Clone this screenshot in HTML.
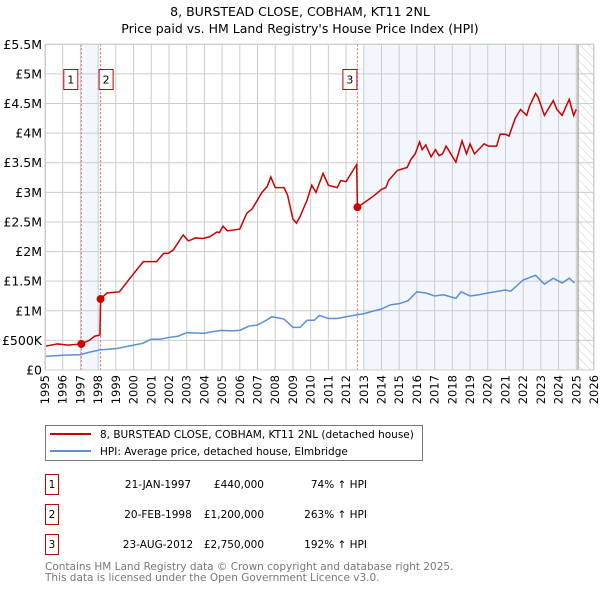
<!DOCTYPE html>
<html><head><meta charset="utf-8"><style>
body{margin:0;background:#fff;font-family:"DejaVu Sans","Liberation Sans",sans-serif;}
svg text{font-family:"DejaVu Sans","Liberation Sans",sans-serif;}
</style></head><body>
<svg id="chart" width="600" height="590" viewBox="0 0 600 590" xmlns="http://www.w3.org/2000/svg">
<defs><pattern id="hatch" width="6" height="6" patternUnits="userSpaceOnUse" patternTransform="rotate(-45)"><line x1="0" y1="0" x2="0" y2="6" stroke="#ccc" stroke-width="1"/></pattern></defs>
<text x="300" y="16" text-anchor="middle" font-size="12.5" fill="#000">8, BURSTEAD CLOSE, COBHAM, KT11 2NL</text>
<text x="300" y="33" text-anchor="middle" font-size="12.5" fill="#000">Price paid vs. HM Land Registry's House Price Index (HPI)</text>
<g id="plot"></g>
<g>
<rect x="45.5" y="425.5" width="377" height="35" fill="#fff" stroke="#777"/>
<line x1="50" y1="434" x2="91" y2="434" stroke="#cc0000" stroke-width="2"/>
<text x="100" y="438" font-size="10.5">8, BURSTEAD CLOSE, COBHAM, KT11 2NL (detached house)</text>
<line x1="50" y1="451" x2="91" y2="451" stroke="#5b8fd6" stroke-width="2"/>
<text x="100" y="455" font-size="10.5">HPI: Average price, detached house, Elmbridge</text>
</g>
<g id="table" font-size="10.5"></g>
<text x="45" y="570" font-size="10.5" fill="#777">Contains HM Land Registry data © Crown copyright and database right 2025.</text>
<text x="45" y="581" font-size="10.5" fill="#777">This data is licensed under the Open Government Licence v3.0.</text>
</svg>
<script>
const yearTicks=[1995,1996,1997,1998,1999,2000,2001,2002,2003,2004,2005,2006,2007,2008,2009,2010,2011,2012,2013,2014,2015,2016,2017,2018,2019,2020,2021,2022,2023,2024,2025,2026];
const valueTicks=[0,0.5,1,1.5,2,2.5,3,3.5,4,4.5,5,5.5];
const valueTickLabels=["£0","£500K","£1M","£1.5M","£2M","£2.5M","£3M","£3.5M","£4M","£4.5M","£5M","£5.5M"];
const redYears=[1995,1995.7,1996.3,1997.05,1997.5,1997.8,1998.1,1998.14,1998.5,1999.2,1999.8,2000.55,2001.3,2001.7,2001.95,2002.25,2002.8,2003.1,2003.5,2003.9,2004.3,2004.7,2004.85,2005.05,2005.3,2006,2006.4,2006.7,2007.25,2007.55,2007.75,2008,2008.5,2008.7,2009,2009.2,2009.4,2009.8,2010.06,2010.3,2010.7,2011,2011.5,2011.7,2012,2012.6,2012.64,2013,2013.6,2014,2014.25,2014.4,2014.9,2015.45,2015.65,2015.9,2016.15,2016.3,2016.5,2016.8,2017.05,2017.25,2017.45,2017.65,2018.2,2018.55,2018.8,2019,2019.25,2019.8,2020.05,2020.5,2020.7,2021,2021.2,2021.55,2021.85,2022.2,2022.35,2022.7,2022.85,2023.2,2023.7,2023.9,2024.2,2024.6,2024.85,2025];
const redValues=[0.40,0.44,0.42,0.44,0.50,0.57,0.59,1.2,1.3,1.32,1.55,1.83,1.83,1.97,1.97,2.03,2.28,2.18,2.23,2.22,2.25,2.33,2.32,2.43,2.35,2.38,2.65,2.72,3.0,3.1,3.26,3.08,3.08,2.95,2.55,2.48,2.59,2.87,3.12,3.0,3.32,3.12,3.08,3.2,3.18,3.47,2.75,2.82,2.95,3.05,3.08,3.2,3.37,3.42,3.55,3.65,3.85,3.72,3.8,3.6,3.72,3.62,3.65,3.78,3.51,3.87,3.65,3.82,3.65,3.82,3.78,3.78,3.98,3.98,3.95,4.25,4.4,4.3,4.45,4.67,4.6,4.3,4.55,4.4,4.3,4.57,4.3,4.4];
const hpiYears=[1995,1996,1997,1997.5,1998.1,1999,2000,2000.5,2001,2001.5,2002,2002.5,2003,2004,2004.5,2005,2005.5,2006,2006.5,2007,2007.5,2007.8,2008.5,2009,2009.4,2009.8,2010.2,2010.5,2011,2011.5,2012,2012.6,2013,2013.6,2014,2014.5,2015,2015.5,2016,2016.5,2017,2017.5,2018.2,2018.5,2019,2019.5,2020,2021,2021.3,2022,2022.7,2023.2,2023.7,2024.2,2024.6,2024.9];
const hpiValues=[0.23,0.25,0.26,0.30,0.34,0.36,0.42,0.45,0.52,0.52,0.55,0.57,0.63,0.62,0.65,0.67,0.66,0.67,0.74,0.76,0.84,0.90,0.86,0.72,0.72,0.84,0.84,0.92,0.87,0.87,0.90,0.93,0.95,1.0,1.03,1.10,1.12,1.17,1.32,1.30,1.25,1.27,1.21,1.32,1.25,1.27,1.30,1.35,1.33,1.52,1.60,1.45,1.55,1.47,1.55,1.47];
const saleYears=[1997.05,1998.14,2012.64];
const saleValues=[0.44,1.2,2.75];
const saleLabels=["1","2","3"];
const saleDates=["21-JAN-1997","20-FEB-1998","23-AUG-2012"];
const salePrices=["£440,000","£1,200,000","£2,750,000"];
const saleHpi=["74% ↑ HPI","263% ↑ HPI","192% ↑ HPI"];

const NS="http://www.w3.org/2000/svg";
const X0=45,X1=594,Y0=370,Y1=44.3;
const xs=y=>X0+(y-1995)/(2026-1995)*(X1-X0);
const ys=v=>Y0-v/5.5*(Y0-Y1);
const plot=document.getElementById('plot');
function mk(tag,attrs,parent){const e=document.createElementNS(NS,tag);for(const k in attrs)e.setAttribute(k,attrs[k]);(parent||plot).appendChild(e);return e;}

let e;
e=mk('rect',{x:X0,y:Y1,width:X1-X0,height:Y0-Y1,fill:'#fff'});


e=mk('rect',{x:xs(saleYears[0]),y:Y1,width:xs(saleYears[1])-xs(saleYears[0]),height:Y0-Y1,fill:'#eef3fc',opacity:0.7});


e=mk('rect',{x:xs(2013),y:Y1,width:xs(2025.1)-xs(2013),height:Y0-Y1,fill:'#eef3fc',opacity:0.7});


e=mk('rect',{x:xs(2025.1),y:Y1,width:X1-xs(2025.1),height:Y0-Y1,fill:'url(#hatch)'});


yearTicks.forEach(y=>{
  e=mk('line',{x1:xs(y),x2:xs(y),y1:Y1,y2:Y0,stroke:'#ccc','stroke-width':1});
  
  
  const t=mk('text',{x:0,y:0,'font-size':11.5,'text-anchor':'end',transform:`translate(${xs(y)+4},${Y0+5}) rotate(-90)`});
  t.textContent=y;
  
  
});
valueTicks.forEach((v,i)=>{
  e=mk('line',{x1:X0,x2:X1,y1:ys(v),y2:ys(v),stroke:'#ccc','stroke-width':1});
  
  
  const t=mk('text',{x:X0-3,y:ys(v)+4.5,'font-size':12.5,'text-anchor':'end'});
  t.textContent=valueTickLabels[i];
  
  
});
e=mk('line',{x1:xs(2025.1),x2:xs(2025.1),y1:Y1,y2:Y0,stroke:'#888','stroke-width':1});


saleYears.forEach((y,i)=>{
  e=mk('line',{x1:xs(y),x2:xs(y),y1:Y1,y2:Y0,stroke:'#f06060','stroke-width':1,'stroke-dasharray':'2,2'});
  
  
  const bx=xs(y)-(i===0?17:i===1?1:14);
  e=mk('rect',{x:bx-0.5,y:69.5,width:14,height:20,fill:'#fff',stroke:'#cc0000'});
  
  
  const t=mk('text',{x:bx+6.5,y:83.5,'font-size':11,'text-anchor':'middle'});
  t.textContent=saleLabels[i];
  
  
});
e=mk('polyline',{points:hpiYears.map((y,i)=>xs(y)+','+ys(hpiValues[i])).join(' '),fill:'none',stroke:'#5b8fd6','stroke-width':1.5});


e=mk('polyline',{points:redYears.map((y,i)=>xs(y)+','+ys(redValues[i])).join(' '),fill:'none',stroke:'#cc0000','stroke-width':1.5});


saleYears.forEach((y,i)=>{
  e=mk('circle',{cx:xs(y),cy:ys(saleValues[i]),r:4,fill:'#cc0000'});
  
  
});
e=mk('rect',{x:X0+0.5,y:Y1,width:X1-X0-1,height:Y0-Y1,fill:'none',stroke:'#ccc'});



const tbl=document.getElementById('table');
const rowY=[483,513,543];
saleLabels.forEach((l,i)=>{
  const cy=rowY[i];
  e=mk('rect',{x:45.5,y:cy-8.5,width:13,height:20,fill:'#fff',stroke:'#cc0000'},tbl);
  
  
  const cells=[[52,'middle',l,'table-index'],[158,'middle',saleDates[i],'table-date'],[264,'end',salePrices[i],'table-price'],[367,'end',saleHpi[i],'table-hpi']];
  cells.forEach(c=>{
    const t=mk('text',{x:c[0],y:cy+5,'text-anchor':c[1]},tbl);
    t.textContent=c[2];
    
    
  });
});
</script>
</body></html>
